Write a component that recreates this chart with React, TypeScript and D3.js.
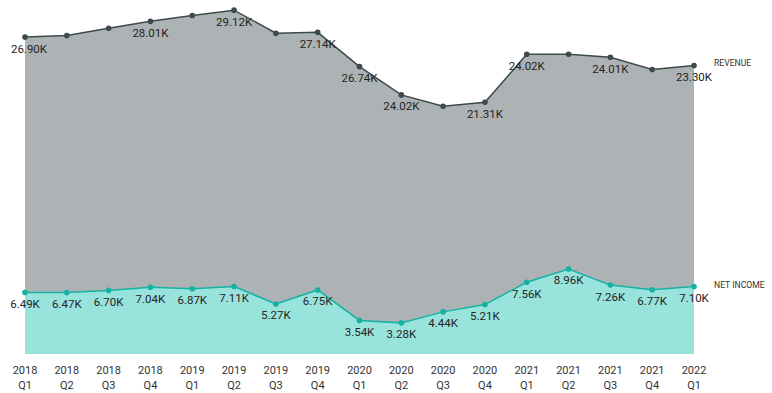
import React from "react";
import * as d3 from "d3";

const years = ["2018","2018","2018","2018","2019","2019","2019","2019","2020","2020","2020","2020","2021","2021","2021","2021","2022"];
const quarters = ["Q1","Q2","Q3","Q4","Q1","Q2","Q3","Q4","Q1","Q2","Q3","Q4","Q1","Q2","Q3","Q4","Q1"];
const netIncome = [6490,6470,6700,7040,6870,7110,5270,6750,3540,3280,4440,5210,7560,8960,7260,6770,7100];
const revenue = [26900,27080,27630,28010,28800,29120,28530,27140,26740,24020,21670,21310,24020,22630,24010,23200,23300];
const revenueLabelShown = [true,false,false,true,false,true,false,true,true,true,false,true,true,false,true,false,true];

const W = 772, H = 393;
const fmt = (v: number) => (v / 1000).toFixed(2) + "K";

export default function App() {
  const cats = years.map((y, i) => y + " " + quarters[i]);
  const x = d3.scalePoint<string>().domain(cats).range([25, 694]);
  const y = d3.scaleLinear().domain([0, 37300]).range([354, 0]);
  const rows = cats.map((c, i) => ({ c, ni: netIncome[i], rev: revenue[i] }));
  const stacked = d3.stack<any>().keys(["ni", "rev"])(rows as any);
  const area = d3.area<any>().x((d: any) => x(d.data.c)!).y0((d: any) => y(d[0])).y1((d: any) => y(d[1]));
  const line = d3.line<any>().x((d: any) => x(d.data.c)!).y((d: any) => y(d[1]));
  const niS = stacked[0], revS = stacked[1];
  const font = "Roboto, 'DejaVu Sans', sans-serif";
  const last = cats.length - 1;
  return (
    <svg width={W} height={H} style={{ position: "absolute", left: 0, top: 0, background: "#fff" }}>
      <path d={area(revS)!} fill="#374649" fillOpacity={0.41} />
      <path d={area(niS)!} fill="#01B8AA" fillOpacity={0.4} />
      <path d={line(revS)!} fill="none" stroke="#3B4B4C" strokeWidth={1.5} />
      <path d={line(niS)!} fill="none" stroke="#15B2A4" strokeWidth={1.5} />
      {revS.map((d: any, i: number) => (
        <circle key={"rc" + i} cx={x(d.data.c)} cy={y(d[1])} r={2.8} fill="#3B4B4C" />
      ))}
      {niS.map((d: any, i: number) => (
        <circle key={"nc" + i} cx={x(d.data.c)} cy={y(d[1])} r={2.8} fill="#15B2A4" />
      ))}
      {revS.map((d: any, i: number) =>
        revenueLabelShown[i] ? (
          <text key={"rl" + i} x={Math.max(x(d.data.c)!, 29)} y={y(d[1]) + 15.5} textAnchor="middle"
            fontFamily={font} fontSize={11.5} fill="#252423">{fmt(revenue[i])}</text>
        ) : null
      )}
      {niS.map((d: any, i: number) => (
        <text key={"nl" + i} x={x(d.data.c)} y={y(d[1]) + 15.5} textAnchor="middle"
          fontFamily={font} fontSize={11.5} fill="#252423">{fmt(netIncome[i])}</text>
      ))}
      {cats.map((c, i) => (
        <g key={"ax" + i}>
          <text x={x(c)} y={374} textAnchor="middle" fontFamily={font} fontSize={11} fill="#333">{years[i]}</text>
          <text x={x(c)} y={389} textAnchor="middle" fontFamily={font} fontSize={11} fill="#333">{quarters[i]}</text>
        </g>
      ))}
      <text x={714} y={y(revS[last][1]) + 1} fontFamily={font} fontSize={8.6} fill="#333">REVENUE</text>
      <text x={714} y={y(niS[last][1]) + 1} fontFamily={font} fontSize={8.6} fill="#333">NET INCOME</text>
    </svg>
  );
}
